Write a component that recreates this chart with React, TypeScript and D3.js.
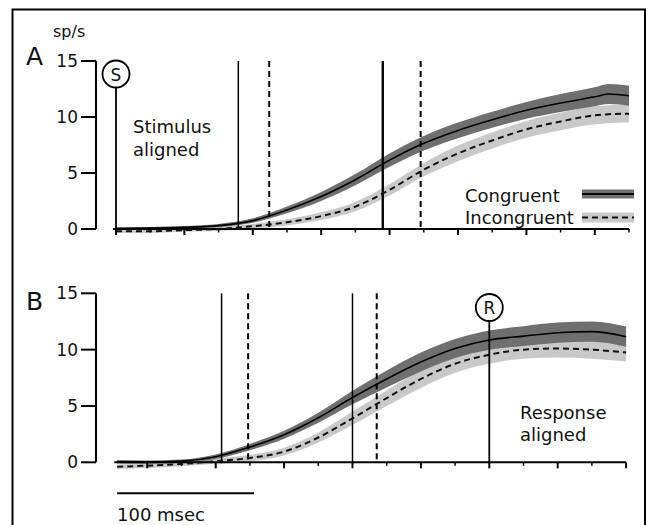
import React from "react";
import * as d3 from "d3";

// ---------- data ----------
const timesA = [0, 25, 50, 75, 100, 125, 150, 175, 200, 225, 250, 275, 300, 325, 350, 360, 375];
const congA = [0.05, 0.08, 0.15, 0.3, 0.75, 1.7, 2.9, 4.4, 6.15, 7.65, 8.8, 9.75, 10.6, 11.25, 11.8, 12.05, 11.9];
const congSemA = [0.1, 0.1, 0.12, 0.15, 0.2, 0.3, 0.4, 0.5, 0.6, 0.65, 0.7, 0.72, 0.75, 0.8, 0.85, 0.9, 0.9];
const incA = [-0.2, -0.2, -0.1, 0.0, 0.25, 0.6, 1.15, 2.0, 3.5, 5.3, 6.75, 7.9, 8.9, 9.6, 10.15, 10.25, 10.3];
const incSemA = [0.15, 0.15, 0.15, 0.18, 0.2, 0.28, 0.35, 0.42, 0.5, 0.6, 0.7, 0.72, 0.75, 0.78, 0.8, 0.8, 0.8];

const timesB = [-272, -250, -225, -200, -175, -150, -125, -100, -75, -50, -25, 0, 25, 50, 75, 100];
const congB = [0.05, 0.02, 0.1, 0.5, 1.35, 2.45, 3.95, 5.75, 7.4, 8.9, 10.1, 10.85, 11.2, 11.5, 11.6, 11.15];
const congSemB = [0.15, 0.15, 0.15, 0.2, 0.28, 0.35, 0.45, 0.6, 0.75, 0.85, 0.85, 0.85, 0.88, 0.9, 0.9, 0.9];
const incB = [-0.4, -0.3, -0.15, 0.1, 0.38, 0.95, 2.2, 3.9, 5.7, 7.4, 8.75, 9.55, 10.0, 10.1, 10.0, 9.75];
const incSemB = [0.2, 0.2, 0.2, 0.22, 0.28, 0.35, 0.45, 0.6, 0.7, 0.8, 0.8, 0.8, 0.8, 0.8, 0.8, 0.8];

const eventsA_solid = [89.4, 195];
const eventsA_dashed = [112, 222.7];
const eventsB_solid = [-195.7, -100];
const eventsB_dashed = [-176.3, -82.3];

const yTicks = [0, 5, 10, 15];
const ticksA = d3.range(0, 376, 25);
const ticksB = d3.range(-250, 101, 25);

const FONT = "DejaVu Sans, sans-serif";
const DARK = "#6f6f6f";
const LIGHT = "#c9c9c9";

type Pt = { t: number; m: number; s: number };
const zip = (ts: number[], ms: number[], ss: number[]): Pt[] => ts.map((t, i) => ({ t, m: ms[i], s: ss[i] }));

function Panel(props: {
  x: d3.ScaleLinear<number, number>;
  y: d3.ScaleLinear<number, number>;
  cong: Pt[];
  inc: Pt[];
  solid: number[];
  dashed: number[];
  solidWidths: number[];
  ticks: number[];
  axisStart: number;
  axisEnd: number;
}) {
  const { x, y, cong, inc, solid, dashed, solidWidths, ticks } = props;
  const area = d3
    .area<Pt>()
    .x((d) => x(d.t))
    .y0((d) => y(d.m - d.s))
    .y1((d) => y(d.m + d.s))
    .curve(d3.curveMonotoneX);
  const line = d3
    .line<Pt>()
    .x((d) => x(d.t))
    .y((d) => y(d.m))
    .curve(d3.curveMonotoneX);
  const y0 = y(0);
  const yTop = y(15);
  const axX = 96;
  return (
    <g>
      {/* y axis */}
      <line x1={axX} x2={axX} y1={yTop} y2={y0} stroke="#000" strokeWidth={2} />
      {yTicks.map((v) => (
        <g key={v}>
          <line x1={axX - 15} x2={axX} y1={y(v)} y2={y(v)} stroke="#000" strokeWidth={2} />
          <text x={78} y={y(v) + 6} textAnchor="end" fontFamily={FONT} fontSize={17} fill="#111">
            {v}
          </text>
        </g>
      ))}
      {/* bands */}
      <path d={area(inc) || ""} fill={LIGHT} />
      <path d={area(cong) || ""} fill={DARK} />
      {/* x axis */}
      <line x1={x(props.axisStart) - 3} x2={x(props.axisEnd)} y1={y0} y2={y0} stroke="#000" strokeWidth={2} />
      {ticks.map((t) => (
        <line
          key={t}
          x1={x(t)}
          x2={x(t)}
          y1={y0}
          y2={y0 + (t % 50 === 0 ? 6 : 3.5)}
          stroke="#000"
          strokeWidth={t % 50 === 0 ? 2 : 1.5}
        />
      ))}
      {/* event lines */}
      {solid.map((t, i) => (
        <line key={"s" + i} x1={x(t)} x2={x(t)} y1={yTop} y2={y0 + 1} stroke="#000" strokeWidth={solidWidths[i]} />
      ))}
      {dashed.map((t, i) => (
        <line
          key={"d" + i}
          x1={x(t)}
          x2={x(t)}
          y1={yTop}
          y2={y0 + 1}
          stroke="#000"
          strokeWidth={2}
          strokeDasharray="6,4"
        />
      ))}
      {/* mean lines */}
      <path d={line(inc) || ""} fill="none" stroke="#111" strokeWidth={2} strokeDasharray="6,4" />
      <path d={line(cong) || ""} fill="none" stroke="#000" strokeWidth={1.6} />
    </g>
  );
}

export default function App() {
  const xA = d3.scaleLinear().domain([0, 375]).range([116, 116 + 375 * 1.368]);
  const yA = d3.scaleLinear().domain([0, 15]).range([229, 61]);
  const xB = d3.scaleLinear().domain([-272, 100]).range([489.3 - 272 * 1.368, 489.3 + 100 * 1.368]);
  const yB = d3.scaleLinear().domain([0, 15]).range([462.3, 293.3]);

  const cA = zip(timesA, congA, congSemA);
  const iA = zip(timesA, incA, incSemA);
  const cB = zip(timesB, congB, congSemB);
  const iB = zip(timesB, incB, incSemB);

  const rS = 13.5;
  const sCy = 74;
  const rCy = 307.5;

  return (
    <svg
      width={649}
      height={525}
      style={{ position: "absolute", left: 0, top: 0, background: "#fff" }}
    >
      <rect x={0} y={0} width={649} height={525} fill="#fff" />
      {/* frame */}
      <rect x={12.5} y={9.5} width={632.5} height={540} fill="none" stroke="#000" strokeWidth={2} />

      {/* Panel A */}
      <text x={26} y={65} fontFamily={FONT} fontSize={25} fill="#111">A</text>
      <text x={53} y={37} fontFamily={FONT} fontSize={16} fill="#111">sp/s</text>
      <Panel
        x={xA}
        y={yA}
        cong={cA}
        inc={iA}
        solid={eventsA_solid}
        dashed={eventsA_dashed}
        solidWidths={[1.5, 2.4]}
        ticks={ticksA}
        axisStart={0}
        axisEnd={375}
      />
      <line x1={xA(0)} x2={xA(0)} y1={sCy + rS} y2={yA(0)} stroke="#000" strokeWidth={1.8} />
      <circle cx={xA(0)} cy={sCy} r={rS} fill="#fff" stroke="#000" strokeWidth={1.8} />
      <text x={xA(0)} y={sCy + 6.5} textAnchor="middle" fontFamily={FONT} fontSize={17} fill="#111">S</text>
      <text x={133} y={133} fontFamily={FONT} fontSize={18} fill="#111">Stimulus</text>
      <text x={133} y={156} fontFamily={FONT} fontSize={18} fill="#111">aligned</text>

      {/* Legend */}
      <text x={465} y={201.5} fontFamily={FONT} fontSize={18} fill="#111">Congruent</text>
      <text x={465} y={223.5} fontFamily={FONT} fontSize={18} fill="#111">Incongruent</text>
      <rect x={582} y={189.5} width={52} height={9} fill={DARK} />
      <line x1={582} x2={634} y1={194} y2={194} stroke="#000" strokeWidth={1.8} />
      <rect x={582} y={212.5} width={52} height={10} fill={LIGHT} />
      <line x1={582} x2={634} y1={217.5} y2={217.5} stroke="#111" strokeWidth={2} strokeDasharray="6,4" />

      {/* Panel B */}
      <text x={26} y={310} fontFamily={FONT} fontSize={25} fill="#111">B</text>
      <Panel
        x={xB}
        y={yB}
        cong={cB}
        inc={iB}
        solid={eventsB_solid}
        dashed={eventsB_dashed}
        solidWidths={[1.5, 1.5]}
        ticks={ticksB}
        axisStart={-272}
        axisEnd={100}
      />
      <line x1={xB(0)} x2={xB(0)} y1={rCy + rS} y2={yB(0) + 1} stroke="#000" strokeWidth={1.8} />
      <circle cx={xB(0)} cy={rCy} r={rS} fill="#fff" stroke="#000" strokeWidth={1.8} />
      <text x={xB(0)} y={rCy + 6.5} textAnchor="middle" fontFamily={FONT} fontSize={17} fill="#111">R</text>
      <text x={520} y={419} fontFamily={FONT} fontSize={18} fill="#111">Response</text>
      <text x={520} y={441} fontFamily={FONT} fontSize={18} fill="#111">aligned</text>

      {/* scale bar */}
      <line x1={xB(-272)} x2={xB(-172)} y1={493.3} y2={493.3} stroke="#000" strokeWidth={2} />
      <text x={117} y={521} fontFamily={FONT} fontSize={18} fill="#111">100 msec</text>
    </svg>
  );
}
